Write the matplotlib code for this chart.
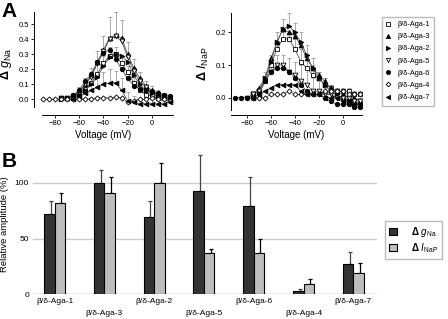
import numpy as np
import matplotlib
matplotlib.use("Agg")
import matplotlib.pyplot as plt
from matplotlib.lines import Line2D
from matplotlib.patches import Patch

plt.rcParams['font.family'] = ['Liberation Sans', 'DejaVu Sans']
plt.rcParams['mathtext.fontset'] = 'custom'
plt.rcParams['mathtext.rm'] = 'Liberation Sans'
plt.rcParams['mathtext.it'] = 'Liberation Sans:italic'
plt.rcParams['mathtext.bf'] = 'Liberation Sans:bold'

nan = np.nan

# voltage steps (mV)
voltage = [-90, -85, -80, -75, -70, -65, -60, -55, -50, -45, -40,
           -35, -30, -25, -20, -15, -10, -5, 0, 5, 10, 15]

toxins = ['β/δ-Aga-1', 'β/δ-Aga-3', 'β/δ-Aga-2', 'β/δ-Aga-5',
          'β/δ-Aga-6', 'β/δ-Aga-4', 'β/δ-Aga-7']

# ---- panel A left: delta g_Na
gna_aga1 = [nan, nan, nan, 0.01, 0.01, 0.02, 0.04, 0.07, 0.11, 0.17, 0.24,
            0.29, 0.30, 0.24, 0.18, 0.11, 0.06, 0.03, 0.02, 0.01, 0.01, 0.00]
gna_aga3 = [nan, nan, nan, 0.01, 0.01, 0.02, 0.05, 0.10, 0.16, 0.25, 0.33,
            0.41, 0.43, 0.41, 0.30, 0.21, 0.14, 0.09, 0.06, 0.04, 0.02, 0.01]
gna_aga2 = [nan, nan, nan, 0.00, 0.01, 0.01, 0.03, 0.06, 0.10, 0.15, 0.22,
            0.28, 0.30, 0.29, 0.25, 0.16, 0.10, 0.06, 0.04, 0.02, 0.01, 0.00]
gna_aga5 = [nan, nan, nan, 0.01, 0.01, 0.02, 0.05, 0.10, 0.15, 0.24, 0.32,
            0.40, 0.42, 0.39, 0.28, 0.19, 0.12, 0.08, 0.05, 0.03, 0.02, 0.01]
gna_aga6 = [nan, nan, nan, 0.01, 0.01, 0.03, 0.06, 0.12, 0.17, 0.25, 0.31,
            0.33, 0.27, 0.20, 0.14, 0.09, 0.07, 0.06, 0.05, 0.04, 0.03, 0.02]
gna_aga4 = [0.0, 0.0, 0.0, 0.0, 0.0, 0.0, 0.0, 0.0, 0.005, 0.01, 0.01,
            0.01, 0.015, 0.01, -0.02, -0.01, 0.0, 0.0, 0.01, 0.0, 0.0, -0.01]
gna_aga7 = [nan, nan, nan, nan, nan, 0.0, 0.02, 0.04, 0.06, 0.08, 0.10,
            0.11, 0.11, 0.06, -0.01, -0.02, -0.03, -0.03, -0.03, -0.03, -0.03, -0.02]

gna_err3 = [0, 0, 0, 0.01, 0.01, 0.02, 0.03, 0.04, 0.05, 0.07, 0.09,
            0.14, 0.15, 0.12, 0.08, 0.06, 0.04, 0.03, 0.03, 0.02, 0.02, 0.02]
gna_err1 = [0, 0, 0, 0.01, 0.01, 0.01, 0.02, 0.03, 0.05, 0.06, 0.05,
            0.06, 0.05, 0.05, 0.04, 0.04, 0.03, 0.02, 0.02, 0.02, 0.01, 0.01]
gna_err7 = [0, 0, 0, 0, 0, 0.01, 0.02, 0.03, 0.04, 0.06, 0.08,
            0.09, 0.08, 0.08, 0.06, 0.04, 0.03, 0.03, 0.03, 0.03, 0.03, 0.03]

# ---- panel A right: delta I_NaP
inap_aga1 = [nan, nan, nan, 0.01, 0.02, 0.05, 0.10, 0.15, 0.18, 0.18, 0.15,
             0.11, 0.09, 0.07, 0.06, 0.04, 0.03, 0.02, 0.02, 0.02, 0.01, 0.01]
inap_aga3 = [nan, nan, nan, 0.01, 0.03, 0.06, 0.12, 0.17, 0.21, 0.20, 0.19,
             0.16, 0.12, 0.09, 0.07, 0.05, 0.03, 0.02, 0.01, 0.00, 0.00, -0.01]
inap_aga2 = [nan, nan, nan, 0.01, 0.02, 0.06, 0.11, 0.17, 0.21, 0.22, 0.20,
             0.17, 0.13, 0.09, 0.06, 0.04, 0.02, 0.01, 0.00, -0.01, -0.02, -0.02]
inap_aga5 = [nan, nan, 0.0, 0.01, 0.02, 0.05, 0.08, 0.10, 0.10, 0.08, 0.07,
             0.05, 0.04, 0.02, 0.02, 0.01, 0.01, 0.00, 0.00, 0.00, -0.01, -0.01]
inap_aga6 = [0.0, 0.0, 0.0, 0.0, 0.01, 0.05, 0.08, 0.09, 0.09, 0.08, 0.06,
             0.04, 0.02, 0.01, 0.01, 0.00, -0.01, -0.02, -0.02, -0.02, -0.03, -0.03]
inap_aga4 = [nan, nan, nan, 0.0, 0.0, 0.0, 0.01, 0.01, 0.01, 0.02, 0.01,
             0.01, 0.01, 0.01, 0.01, 0.02, 0.02, 0.02, 0.02, 0.01, 0.01, 0.01]
inap_aga7 = [nan, nan, nan, 0.0, 0.01, 0.02, 0.03, 0.04, 0.04, 0.04, 0.04,
             0.02, 0.01, 0.01, 0.01, 0.00, 0.00, 0.00, -0.01, -0.01, -0.02, -0.02]

inap_err2 = [0, 0, 0, 0.01, 0.01, 0.02, 0.02, 0.03, 0.03, 0.04, 0.03,
             0.03, 0.03, 0.03, 0.02, 0.02, 0.02, 0.02, 0.02, 0.02, 0.02, 0.02]
inap_err1 = [0, 0, 0, 0.01, 0.01, 0.01, 0.01, 0.02, 0.02, 0.02, 0.03,
             0.04, 0.04, 0.03, 0.02, 0.02, 0.01, 0.01, 0.01, 0.01, 0.01, 0.01]
inap_err5 = [0, 0, 0, 0.01, 0.01, 0.01, 0.02, 0.03, 0.03, 0.04, 0.04,
             0.05, 0.05, 0.04, 0.03, 0.02, 0.02, 0.01, 0.01, 0.01, 0.01, 0.01]

# ---- panel B: relative amplitudes (%)
rel_gna = [72, 100, 69, 93, 79, 3, 27]
rel_gna_err = [12, 12, 15, 32, 26, 2, 11]
rel_inap = [82, 91, 100, 37, 37, 9, 19]
rel_inap_err = [9, 14, 18, 4, 13, 5, 9]

markers = [('s', 'white'), ('^', 'black'), ('>', 'black'), ('v', 'white'),
           ('o', 'black'), ('D', 'white'), ('<', 'black')]
msizes = [3.0, 3.4, 3.4, 3.4, 3.2, 2.6, 3.4]

fig = plt.figure(figsize=(4.48, 3.19), dpi=100)

v = np.array(voltage)


def curve_panel(ax, series, errs):
    for data, err in errs:
        d = np.array(data)
        e = np.array(err)
        ok = ~np.isnan(d)
        ax.errorbar(v[ok], d[ok], yerr=[np.zeros(ok.sum()), e[ok]], fmt='none',
                    ecolor='#888888', elinewidth=0.5, capsize=1.2, capthick=0.5)
    for (data, (m, fc), ms) in zip(series, markers, msizes):
        d = np.array(data)
        ok = ~np.isnan(d)
        ax.plot(v[ok], d[ok], color='#555555', lw=0.6, marker=m, ms=ms,
                mfc=fc, mec='black', mew=0.6)
    for s in ['top', 'right']:
        ax.spines[s].set_visible(False)
    ax.tick_params(labelsize=5.5, length=2, width=0.6, pad=1.5)
    ax.spines['left'].set_linewidth(0.7)
    ax.spines['bottom'].set_linewidth(0.7)
    ax.set_xticks([-80, -60, -40, -20, 0])
    ax.set_xlabel('Voltage (mV)', fontsize=7, labelpad=2)


axA1 = fig.add_axes([0.0759, 0.6395, 0.310, 0.3225])
curve_panel(axA1, [gna_aga1, gna_aga3, gna_aga2, gna_aga5, gna_aga6, gna_aga4, gna_aga7],
            [(gna_aga3, gna_err3), (gna_aga1, gna_err1), (gna_aga7, gna_err7)])
axA1.set_xlim(-97.3, 17.3)
axA1.set_ylim(-0.105, 0.582)
axA1.spines['left'].set_bounds(-0.05, 0.58)
axA1.spines['bottom'].set_bounds(-91, 17)
axA1.set_yticks([0.0, 0.1, 0.2, 0.3, 0.4, 0.5])
axA1.set_ylabel(r'$\mathbf{\Delta}$ $\mathit{g}_{\mathrm{Na}}$', fontsize=9, labelpad=3)

axA2 = fig.add_axes([0.5156, 0.6395, 0.2924, 0.3185])
curve_panel(axA2, [inap_aga1, inap_aga3, inap_aga2, inap_aga5, inap_aga6, inap_aga4, inap_aga7],
            [(inap_aga2, inap_err2), (inap_aga1, inap_err1), (inap_aga5, inap_err5)])
axA2.set_xlim(-93.5, 16.3)
axA2.set_ylim(-0.053, 0.258)
axA2.spines['left'].set_bounds(-0.038, 0.258)
axA2.set_yticks([0.0, 0.1, 0.2])
axA2.set_ylabel(r'$\mathbf{\Delta}$ $\mathit{I}_{\mathrm{NaP}}$', fontsize=9, labelpad=3)

handles = [Line2D([], [], ls='none', marker=m, ms=ms * 0.9, mfc=fc, mec='black', mew=0.6)
           for (m, fc), ms in zip(markers, msizes)]
fig.legend(handles, toxins, loc='upper left', bbox_to_anchor=(0.852, 0.948),
           fontsize=5.3, frameon=True, fancybox=False, edgecolor='#aaaaaa',
           handlelength=0.6, handletextpad=0.9, labelspacing=0.68,
           borderpad=0.6, borderaxespad=0)

fig.text(0.004, 0.995, 'A', fontsize=15, fontweight='bold', va='top', ha='left')
fig.text(0.004, 0.525, 'B', fontsize=15, fontweight='bold', va='top', ha='left')

# ---- panel B
axB = fig.add_axes([0.074, 0.078, 0.768, 0.439])
x = np.arange(len(toxins))
w = 0.21
axB.bar(x - w / 2, rel_gna, w, color='#333333', edgecolor='black', lw=0.8, zorder=3)
axB.bar(x + w / 2, rel_inap, w, color='#bdbdbd', edgecolor='black', lw=0.8, zorder=3)
axB.errorbar(x - w / 2 + 0.03, rel_gna, yerr=[np.zeros(7), rel_gna_err], fmt='none',
             ecolor='#444444', elinewidth=0.9, capsize=1.5, capthick=0.9, zorder=2,
             clip_on=False)
axB.errorbar(x + w / 2 + 0.03, rel_inap, yerr=[np.zeros(7), rel_inap_err], fmt='none',
             ecolor='black', elinewidth=0.9, capsize=1.5, capthick=0.9, zorder=2,
             clip_on=False)
axB.set_xlim(-0.43, 6.48)
axB.set_ylim(0, 126)
axB.set_yticks([0, 50, 100])
axB.yaxis.grid(True, color='#cccccc', lw=1.0, zorder=0)
axB.set_axisbelow(True)
for s in ['top', 'right', 'left', 'bottom']:
    axB.spines[s].set_visible(False)
axB.axhline(0, color='#cccccc', lw=1.0, zorder=1)
axB.set_xticks(x)
axB.set_xticklabels(toxins)
axB.tick_params(axis='both', length=0, labelsize=6)
axB.tick_params(axis='y', pad=3)
for i, t in enumerate(axB.xaxis.get_major_ticks()):
    t.set_pad(2.5 if i % 2 == 0 else 11.5)
axB.set_ylabel('Relative amplitude (%)', fontsize=6.8, labelpad=4)

legB = [Patch(facecolor='#333333', edgecolor='black', lw=0.8),
        Patch(facecolor='#bdbdbd', edgecolor='black', lw=0.8)]
fig.legend(legB, [r'$\mathbf{\Delta}$ $\mathit{g}_{\mathrm{Na}}$',
                  r'$\mathbf{\Delta}$ $\mathit{I}_{\mathrm{NaP}}$'],
           loc='upper left', bbox_to_anchor=(0.859, 0.307), fontsize=7,
           frameon=True, fancybox=False, edgecolor='#aaaaaa',
           handlelength=0.9, handleheight=0.6, handletextpad=1.4,
           labelspacing=0.2, borderpad=0.4, borderaxespad=0)

fig.savefig('out.png', dpi=100)
